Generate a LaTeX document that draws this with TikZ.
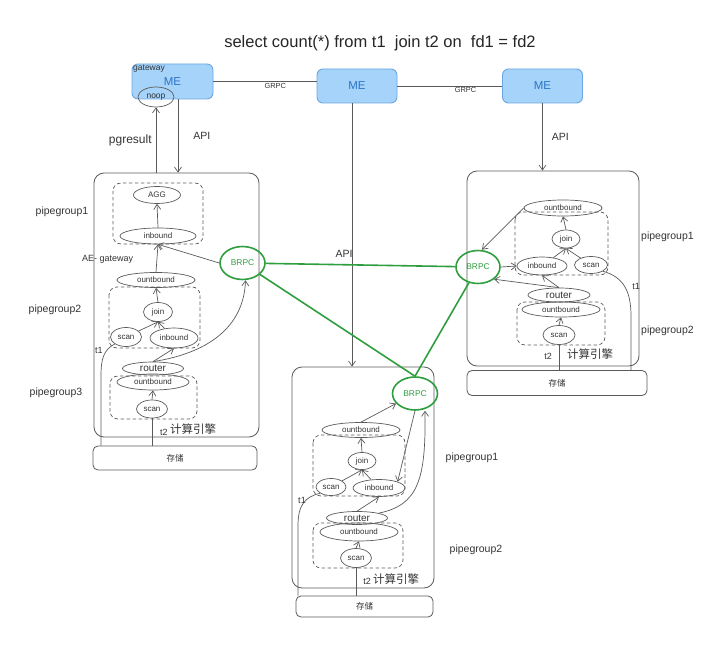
\documentclass[tikz,border=0pt]{standalone}
\usepackage{fontspec}
\setmainfont{Liberation Sans}
\newfontfamily\cjk{Noto Sans CJK SC}
\usetikzlibrary{shapes.geometric,arrows.meta}

\definecolor{mefill}{HTML}{A6D3FA}
\definecolor{meedge}{HTML}{6BA7E0}
\definecolor{metext}{HTML}{2A74C6}
\definecolor{brgreen}{HTML}{2E9E3E}
\definecolor{ln}{HTML}{5A5A5A}
\definecolor{txt}{HTML}{333333}

\tikzset{
  mebox/.style={draw=meedge, fill=mefill, rounded corners=6pt, minimum width=80pt,
    minimum height=34pt, line width=0.9pt, text=metext, inner sep=0pt,
    font=\fontsize{11.5}{13}\selectfont},
  op/.style={ellipse, draw=ln, line width=0.7pt, inner sep=0pt, text=txt,
    font=\fontsize{8}{9}\selectfont},
  brpc/.style={ellipse, draw=brgreen, line width=1.6pt, minimum width=45pt,
    minimum height=33pt, inner sep=0pt, text=brgreen, font=\fontsize{8.4}{9}\selectfont},
  enginebox/.style={draw=ln, line width=0.8pt, rounded corners=10pt, inner sep=0pt},
  storebox/.style={draw=ln, line width=0.8pt, rounded corners=5pt, inner sep=0pt,
    text=txt, font=\cjk\fontsize{8.5}{9}\selectfont},
  grp/.style={draw=ln, dashed, dash pattern=on 3.5pt off 2.5pt, line width=0.7pt, rounded corners=8pt},
  arr/.style={draw=ln, line width=0.7pt, -{Straight Barb[length=5pt,width=7pt]}},
  wire/.style={draw=ln, line width=0.7pt},
  greenlink/.style={draw=brgreen, line width=1.6pt},
  lbl/.style={text=txt, inner sep=0pt, font=\fontsize{10.5}{12}\selectfont},
  tlbl/.style={text=txt, inner sep=0pt, font=\fontsize{9}{10}\selectfont},
  cnlbl/.style={text=txt, inner sep=0pt, font=\cjk\fontsize{11.5}{13}\selectfont},
  smalltxt/.style={text=txt, inner sep=1pt, font=\fontsize{7.4}{8}\selectfont},
}

\begin{document}
\begin{tikzpicture}[x=1pt,y=-1pt]
\useasboundingbox (0,0) rectangle (721,647);

% query
\node[text=black!85, inner sep=0pt, font=\fontsize{16.5}{18}\selectfont] (query) at (380,43)
  {select count(*) from t1\ \ join t2 on\ \ fd1 = fd2};

% ---------------- ME row ----------------
\node[mebox, minimum width=81pt, minimum height=35pt] (gwme) at (172.5,81.5) {ME};
\node[text=txt, anchor=west, inner sep=0pt, font=\fontsize{8.5}{9}\selectfont] (gwlabel) at (133,69) {gateway};
\node[op, minimum width=36pt, minimum height=20pt, font=\fontsize{8.5}{9}\selectfont] (noop) at (156,97) {noop};
\node[mebox] (mme) at (357,86) {ME};
\node[mebox] (rme) at (542.5,86) {ME};

\draw[wire] (gwme.east) -- (gwme.east -| mme.west) node[pos=0.6, below, smalltxt] (grpc1) {GRPC};
\draw[wire] (mme.east) -- (rme.west) node[pos=0.65, below, smalltxt] (grpc2) {GRPC};

% ---------------- engines and storage ----------------
\node[enginebox, minimum width=165pt, minimum height=264pt] (leng) at (176.5,305) {};
\node[storebox, minimum width=164pt, minimum height=24pt] (lstore) at (175,458) {存储};
\node[enginebox, minimum width=172pt, minimum height=195pt] (reng) at (553,268.5) {};
\node[storebox, minimum width=180pt, minimum height=25pt] (rstore) at (557,383) {存储};
\node[enginebox, minimum width=142pt, minimum height=221pt] (beng) at (363,477.5) {};
\node[storebox, minimum width=137pt, minimum height=21pt] (bstore) at (364.5,606.5) {存储};

% API / result arrows
\draw[arr] (noop.south |- leng.north) -- (noop.south)
  node[midway, left=4pt, lbl, font=\fontsize{12}{13}\selectfont] (pgres) {pgresult};
\draw[arr] ([xshift=5.5pt]gwme.south) -- ([xshift=5.5pt]gwme.south |- leng.north)
  node[midway, right=15pt, lbl] (api1) {API};
\draw[arr] ([xshift=-5pt]mme.south) -- ([xshift=-5pt]mme.south |- beng.north)
  node[pos=0.57, left=-1pt, lbl] (api2) {API};
\draw[arr] (rme.south) -- (rme.south |- reng.north) node[midway, right=9pt, lbl] (api3) {API};

% ---------------- left engine ----------------
\draw[grp] (113,183) rectangle (203,244);
\draw[grp] (109,287) rectangle (200,348);
\draw[grp] (110,376) rectangle (197,419);

\node[op, minimum width=47pt, minimum height=17pt] (lagg) at (157,195) {AGG};
\node[op, minimum width=76pt, minimum height=16pt] (lin1) at (158,236) {inbound};
\node[brpc] (lbrpc) at (242.5,263) {BRPC};
\node[op, minimum width=78pt, minimum height=15pt] (lout1) at (156,280) {ountbound};
\node[op, minimum width=29pt, minimum height=19pt] (ljoin) at (158,312) {join};
\node[op, minimum width=31pt, minimum height=19pt] (lscan1) at (126,337) {scan};
\node[op, minimum width=48pt, minimum height=20pt] (lin2) at (174,338) {inbound};
\node[op, minimum width=61pt, minimum height=13pt, font=\fontsize{10}{11}\selectfont] (lrouter) at (153,368.5) {router};
\node[op, minimum width=72pt, minimum height=16pt] (lout2) at (153,382) {ountbound};
\node[op, minimum width=31pt, minimum height=18pt] (lscan2) at (152,409) {scan};

\draw[arr] (lin1.north) -- (lagg.south);
\draw[arr] (lout1.north) -- (lin1.south);
\draw[arr] (lbrpc.west) -- (lin1.south);
\draw[arr] (ljoin.north) -- (lout1.south);
\draw[arr] (lscan1) -- (ljoin.south);
\draw[arr] (lin2) -- (ljoin.south);
\draw[arr] (lrouter.north) -- (lin2.south);
\draw[arr] (lrouter.north) .. controls (215,352) and (244,322) .. ([xshift=3pt]lbrpc.south);
\draw[arr] (lscan2.north) -- (lout2.south);
\draw[wire] (lscan1.south west) .. controls (103,350) and (101,360) .. (101,376) -- ([xshift=-74pt]lstore.north);
\draw[wire] (lscan2.south |- lstore.north) -- (lscan2.south);

\node[tlbl] (lt1) at (99,350) {t1};
\node[tlbl] (lt2) at (164,432) {t2};
\node[cnlbl] (leng-name) at (193,429.5) {计算引擎};
\node[text=txt, anchor=west, inner sep=0pt, font=\fontsize{9}{10}\selectfont] (aegw) at (82,259.5) {AE- gateway};
\node[lbl] (lpg1) at (62,212) {pipegroup1};
\node[lbl] (lpg2) at (55,309.5) {pipegroup2};
\node[lbl] (lpg3) at (56,393) {pipegroup3};

% ---------------- right engine ----------------
\draw[grp] (515,212) rectangle (608,275);
\draw[grp] (517,302) rectangle (605,345);

\node[op, minimum width=78pt, minimum height=16pt] (rout1) at (563,208) {ountbound};
\node[op, minimum width=28pt, minimum height=18pt] (rjoin) at (566,239) {join};
\node[op, minimum width=50pt, minimum height=18pt] (rin1) at (542,266) {inbound};
\node[op, minimum width=33pt, minimum height=17pt] (rscan1) at (591,265) {scan};
\node[brpc, minimum width=44pt] (rbrpc) at (478,267) {BRPC};
\node[op, minimum width=62pt, minimum height=14pt, font=\fontsize{10}{11}\selectfont] (rrouter) at (559,295) {router};
\node[op, minimum width=78pt, minimum height=15pt] (rout2) at (561,309.5) {ountbound};
\node[op, minimum width=32pt, minimum height=19pt] (rscan2) at (559,335) {scan};

\draw[arr] (rout1.west) -- ([xshift=4pt]rbrpc.north);
\draw[arr] (rjoin.north) -- (rout1.south);
\draw[arr] (rin1) -- (rjoin.south);
\draw[arr] (rscan1) -- (rjoin.south);
\draw[arr] (rbrpc.east) -- (rin1.west);
\draw[arr] (rrouter.north) -- (rin1.south);
\draw[arr] (rrouter.north) -- (rbrpc.south east);
\draw[arr] (rscan2.north) -- (rout2.south);
\draw[wire] (rscan1.south east) .. controls (624,277) and (631,292) .. (631,316) -- ([xshift=74pt]rstore.north);
\draw[wire] (rscan2.south |- rstore.north) -- (rscan2.south);

\node[tlbl] (rt1) at (636,286) {t1};
\node[tlbl] (rt2) at (548,356) {t2};
\node[cnlbl] (reng-name) at (590,354.5) {计算引擎};
\node[lbl, anchor=west] (rpg1) at (641,237) {pipegroup1};
\node[lbl, anchor=west] (rpg2) at (641,331) {pipegroup2};

% ---------------- bottom engine ----------------
\draw[grp] (313,435) rectangle (405,496);
\draw[grp] (313,523) rectangle (403,568);

\node[brpc] (bbrpc) at (415,393.5) {BRPC};
\node[op, minimum width=78pt, minimum height=15pt] (bout1) at (361,430) {ountbound};
\node[op, minimum width=28pt, minimum height=17pt] (bjoin) at (362,461) {join};
\node[op, minimum width=30pt, minimum height=17pt] (bscan1) at (331,487) {scan};
\node[op, minimum width=52pt, minimum height=17pt] (bin1) at (379,488) {inbound};
\node[op, minimum width=61pt, minimum height=13pt, font=\fontsize{10}{11}\selectfont] (brouter) at (357,518) {router};
\node[op, minimum width=78pt, minimum height=18pt] (bout2) at (359,532) {ountbound};
\node[op, minimum width=31pt, minimum height=19pt] (bscan2) at (356,558) {scan};

\draw[arr] (bout1.north) -- (bbrpc);
\draw[arr] (bjoin.north) -- (bout1.south);
\draw[arr] (bscan1) -- (bjoin.south);
\draw[arr] (bin1) -- (bjoin.south);
\draw[arr] (bbrpc.south) -- (bin1.north east);
\draw[arr] (brouter.north) -- (bin1.south);
\draw[arr] (brouter.north east) .. controls (418,505) and (426,480) .. ([xshift=10pt]bbrpc.south);
\draw[arr] (bscan2.north) -- (bout2.south);
\draw[wire] (bscan1.south west) .. controls (304,497) and (298,506) .. (298,526) -- ([xshift=-66.5pt]bstore.north);
\draw[wire] (bscan2.south |- bstore.north) -- (bscan2.south);

\node[tlbl] (bt1) at (302,500) {t1};
\node[tlbl] (bt2) at (367,581) {t2};
\node[cnlbl] (beng-name) at (396,579.5) {计算引擎};
\node[lbl] (bpg1) at (472,458) {pipegroup1};
\node[lbl] (bpg2) at (476,550) {pipegroup2};

% ---------------- BRPC links ----------------
\draw[greenlink] (lbrpc) -- (rbrpc);
\draw[greenlink] (lbrpc) -- (bbrpc.north);
\draw[greenlink] (rbrpc) -- (bbrpc.north);

\end{tikzpicture}
\end{document}
